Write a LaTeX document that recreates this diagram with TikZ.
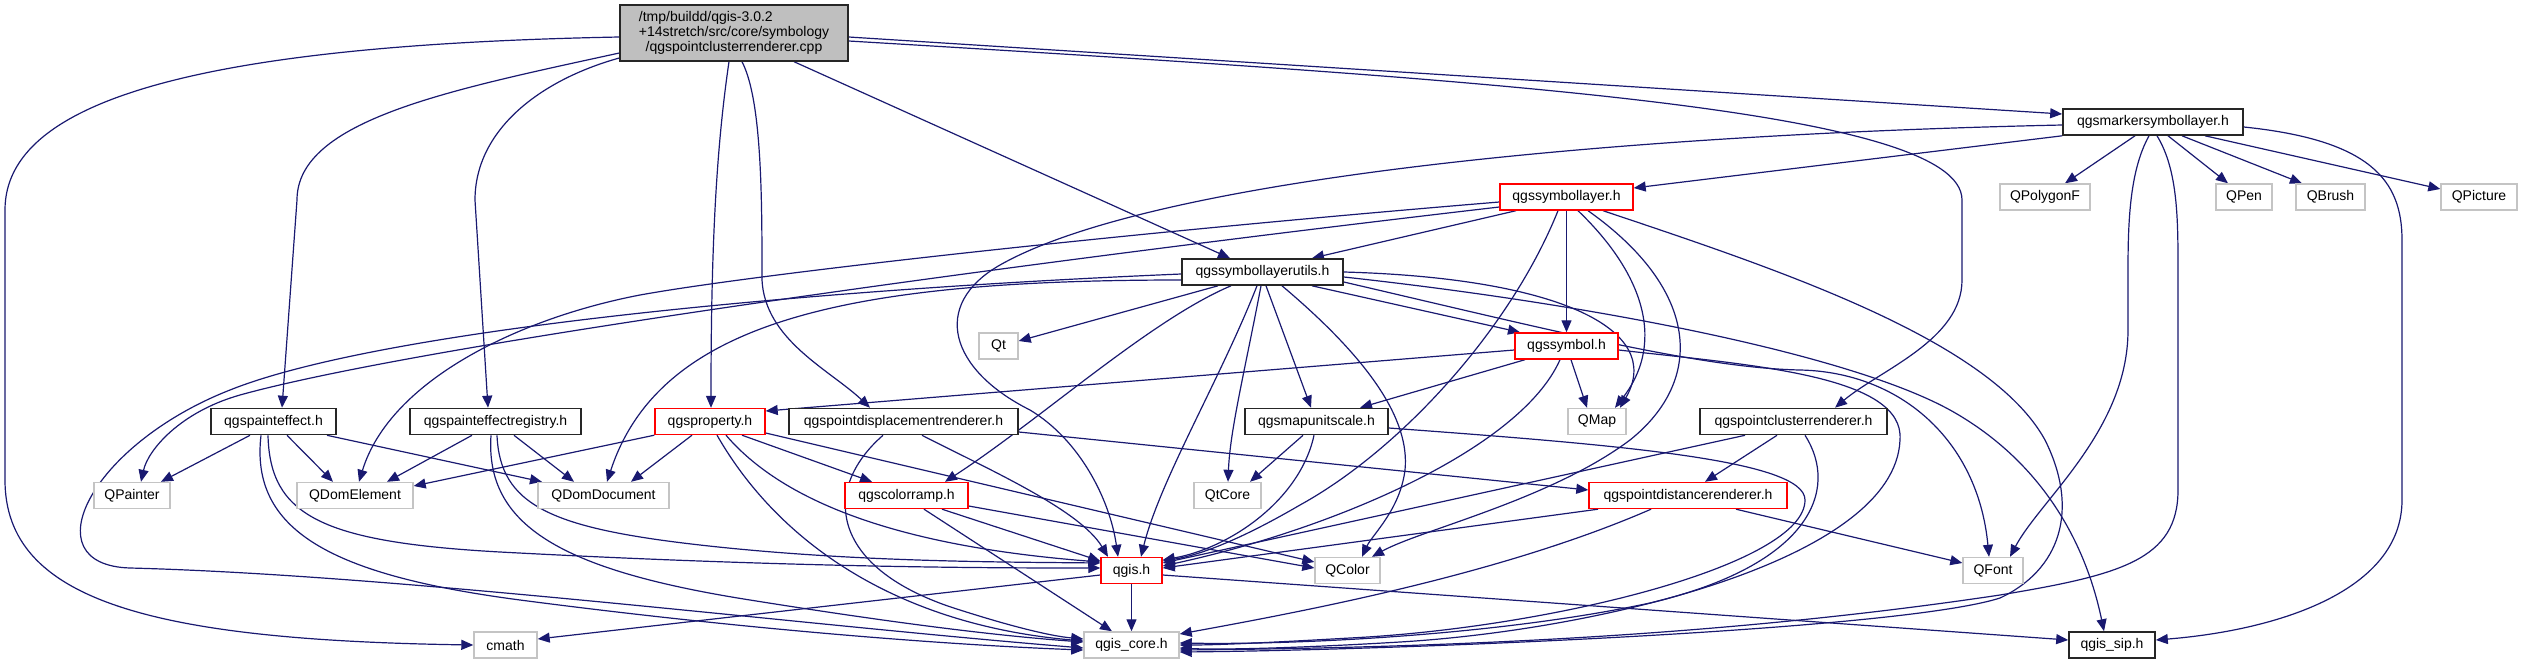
\documentclass[tikz,border=0pt]{standalone}
\usepackage{fontspec}
\setmainfont{Liberation Sans}
\usepackage{calc}
\usepackage{xcolor}
\usepackage{tikz}
\usetikzlibrary{arrows.meta, backgrounds}
\definecolor{depblue}{RGB}{25,25,112}
\definecolor{rootgray}{RGB}{191,191,191}
\definecolor{sysgray}{RGB}{196,196,196}
\begin{document}
\begin{tikzpicture}[
  x=1pt, y=-1pt,
  >={Triangle[length=12pt,width=10pt]},
  file/.style={draw, line width=1.4pt, fill=white, inner sep=0pt, minimum height=26pt, font=\fontsize{14}{15}\selectfont},
  rootF/.style={file, fill=rootgray, draw=black!85, align=center},
  hdrF/.style={file, draw=black!85, line width=1.6pt},
  cutF/.style={file, draw=red},
  sysF/.style={file, draw=sysgray},
  dep/.style={->, draw=depblue, line width=1.2pt}
]
\useasboundingbox (0,0) rectangle (2522,664);
\node[rootF, minimum width=228pt, minimum height=56pt] (main) at (734,33) {\makebox[\widthof{+14stretch/src/core/symbology}][l]{/tmp/buildd/qgis-3.0.2}\\+14stretch/src/core/symbology\\/qgspointclusterrenderer.cpp};
\node[hdrF, minimum width=180pt] (mk) at (2153,122) {qgsmarkersymbollayer.h};
\node[cutF, minimum width=133pt] (sl) at (1566.5,197) {qgssymbollayer.h};
\node[sysF, minimum width=90pt] (polyf) at (2045,197) {QPolygonF};
\node[sysF, minimum width=56pt] (pen) at (2244,197) {QPen};
\node[sysF, minimum width=69pt] (brush) at (2330.5,197) {QBrush};
\node[sysF, minimum width=76pt] (picture) at (2479,197) {QPicture};
\node[hdrF, minimum width=161pt] (utils) at (1262.5,272) {qgssymbollayerutils.h};
\node[sysF, minimum width=39pt] (qt) at (998.5,346) {Qt};
\node[cutF, minimum width=103pt] (sym) at (1566.5,346) {qgssymbol.h};
\node[hdrF, minimum width=125pt] (pe) at (273.5,421.5) {qgspainteffect.h};
\node[hdrF, minimum width=171pt] (per) at (495.5,421.5) {qgspainteffectregistry.h};
\node[cutF, minimum width=110pt] (prop) at (710,421.5) {qgsproperty.h};
\node[hdrF, minimum width=229pt] (disp) at (903.5,421.5) {qgspointdisplacementrenderer.h};
\node[hdrF, minimum width=143pt] (mus) at (1316.5,421.5) {qgsmapunitscale.h};
\node[sysF, minimum width=58pt] (qmap) at (1597,421.5) {QMap};
\node[hdrF, minimum width=187pt] (clu) at (1793.5,421.5) {qgspointclusterrenderer.h};
\node[sysF, minimum width=76pt] (painter) at (132,495.5) {QPainter};
\node[sysF, minimum width=116pt] (domel) at (355,495.5) {QDomElement};
\node[sysF, minimum width=131pt] (domdoc) at (603.5,495.5) {QDomDocument};
\node[cutF, minimum width=123pt] (ramp) at (906.5,495.5) {qgscolorramp.h};
\node[sysF, minimum width=67pt] (qtcore) at (1227.5,495.5) {QtCore};
\node[cutF, minimum width=198pt] (dist) at (1688,495.5) {qgspointdistancerenderer.h};
\node[cutF, minimum width=61pt] (qgis) at (1131.5,570.5) {qgis.h};
\node[sysF, minimum width=65pt] (color) at (1347.5,570.5) {QColor};
\node[sysF, minimum width=60pt] (font) at (1993,570.5) {QFont};
\node[sysF, minimum width=63pt] (cmath) at (505.5,645) {cmath};
\node[sysF, minimum width=95pt] (core) at (1131.5,645) {qgis\_core.h};
\node[hdrF, minimum width=86pt] (sip) at (2112,645) {qgis\_sip.h};

\begin{scope}[on background layer]
\draw[dep] (main.west |- 0,37) .. controls (200,45) and (5,100) .. (5,210) -- (5,480) .. controls (5,600) and (150,640) .. (cmath.west);
\draw[dep] (main.west |- 0,53) .. controls (450,90) and (297,120) .. (297,200) -- (pe.north -| 282,0);
\draw[dep] (main.west |- 0,58) .. controls (540,80) and (475,130) .. (475,200) -- (per.north -| 488,0);
\draw[dep] (main.south -| 729,0) .. controls (716,150) and (711,250) .. (prop.north -| 711,0);
\draw[dep] (main.south -| 742,0) .. controls (762,100) and (762,200) .. (762,280) .. controls (765,340) and (830,370) .. (disp.north -| 870,0);
\draw[dep] (main.south -| 794,0) -- (utils.north -| 1230,0);
\draw[dep] (main.east |- 0,37) -- (mk.west |- 0,114);
\draw[dep] (main.east |- 0,41) .. controls (1500,80) and (1962,110) .. (1962,200) -- (1962,280) .. controls (1962,340) and (1880,370) .. (clu.north -| 1835,0);

\draw[dep] (mk.south west) -- (sl.east |- 0,188);
\draw[dep] (mk.south -| 2135,0) -- (polyf.north -| 2065,0);
\draw[dep] (mk.south -| 2168,0) -- (pen.north -| 2228,0);
\draw[dep] (mk.south -| 2182,0) -- (brush.north -| 2302,0);
\draw[dep] (mk.south -| 2205,0) -- (picture.west |- 0,189);
\draw[dep] (mk.south -| 2149,0) .. controls (2130,170) and (2128,220) .. (2128,270) -- (2128,330) .. controls (2128,430) and (2040,500) .. (font.north -| 2010,0);
\draw[dep] (mk.south -| 2157,0) .. controls (2178,170) and (2178,220) .. (2178,270) -- (2178,490) .. controls (2178,560) and (2120,575) .. (2000,595) .. controls (1700,640) and (1400,648) .. (core.east |- 0,650);
\draw[dep] (mk.east |- 0,127) .. controls (2370,140) and (2402,180) .. (2402,240) -- (2402,500) .. controls (2402,590) and (2280,630) .. (sip.east |- 0,640);
\draw[dep] (mk.west |- 0,125) .. controls (1600,135) and (1150,180) .. (1000,265) .. controls (930,305) and (950,370) .. (1030,410) .. controls (1080,440) and (1110,500) .. (qgis.north -| 1118,0);

\draw[dep] (sl.west |- 0,202) .. controls (1100,235) and (750,275) .. (640,295) .. controls (520,318) and (390,380) .. (domel.north -| 359,0);
\draw[dep] (sl.west |- 0,207) .. controls (1000,265) and (420,345) .. (240,395) .. controls (180,412) and (148,450) .. (painter.north -| 141,0);
\draw[dep] (sl.south -| 1516,0) -- (utils.north -| 1312,0);
\draw[dep] (sl.south -| 1558,0) .. controls (1510,330) and (1400,450) .. (1300,505) .. controls (1240,540) and (1200,555) .. (qgis.east |- 0,561);
\draw[dep] (sl) -- (sym);
\draw[dep] (sl.south -| 1578,0) .. controls (1640,270) and (1668,340) .. (qmap.north -| 1615,0);
\draw[dep] (sl.south -| 1588,0) .. controls (1700,290) and (1705,380) .. (1630,440) .. controls (1550,500) and (1420,530) .. (color.north -| 1372,0);
\draw[dep] (sl.south -| 1603,0) .. controls (1780,270) and (1990,340) .. (2045,440) .. controls (2080,510) and (2060,570) .. (2000,598) .. controls (1900,630) and (1400,650) .. (core.east |- 0,652);

\draw[dep] (utils.south -| 1218,0) -- (qt.east |- 0,341);
\draw[dep] (utils.south -| 1231,0) .. controls (1150,320) and (1040,420) .. (ramp.north -| 945,0);
\draw[dep] (utils.south -| 1257,0) .. controls (1220,380) and (1160,480) .. (qgis.north -| 1141,0);
\draw[dep] (utils.south -| 1261,0) .. controls (1245,370) and (1230,430) .. (qtcore.north -| 1228,0);
\draw[dep] (utils.south -| 1266,0) -- (mus.north -| 1311,0);
\draw[dep] (utils.south -| 1282,0) .. controls (1370,360) and (1410,420) .. (1405,470) .. controls (1400,510) and (1372,535) .. (color.north -| 1362,0);
\draw[dep] (utils.south -| 1312,0) -- (sym.north -| 1520,0);
\draw[dep] (utils.east |- 0,272) .. controls (1560,278) and (1665,330) .. (qmap.north -| 1620,0);
\draw[dep] (utils.east |- 0,282) .. controls (1550,330) and (1700,368) .. (1800,370) .. controls (1900,372) and (1978,440) .. (font.north -| 1989,0);
\draw[dep] (utils.east |- 0,277) .. controls (1600,305) and (1850,355) .. (1950,410) .. controls (2040,460) and (2085,540) .. (sip.north -| 2104,0);
\draw[dep] (utils.west |- 0,280) .. controls (850,280) and (660,320) .. (domdoc.north -| 607,0);
\draw[dep] (utils.west |- 0,274) .. controls (800,290) and (380,330) .. (230,390) .. controls (90,445) and (30,565) .. (130,568) .. controls (400,575) and (800,625) .. (core.west |- 0,648);

\draw[dep] (sym.west |- 0,350) -- (prop.east |- 0,411);
\draw[dep] (sym.south -| 1525,0) -- (mus.north -| 1360,0);
\draw[dep] (sym.south -| 1560,0) .. controls (1520,450) and (1330,530) .. (qgis.east |- 0,566);
\draw[dep] (sym.south -| 1571,0) -- (qmap.north -| 1587,0);
\draw[dep] (sym.east |- 0,350) .. controls (1750,365) and (1905,375) .. (1900,440) .. controls (1895,560) and (1600,630) .. (1400,642) .. controls (1300,648) and (1220,650) .. (core.east |- 0,648);

\draw[dep] (pe.south -| 250,0) -- (painter.north -| 161,0);
\draw[dep] (pe.south -| 287,0) -- (domel.north -| 333,0);
\draw[dep] (pe.south -| 327,0) -- (domdoc.north -| 542,0);
\draw[dep] (pe.south -| 268,0) .. controls (270,515) and (320,542) .. (500,552) .. controls (800,568) and (1000,568) .. (qgis.west |- 0,568);
\draw[dep] (pe.south -| 261,0) .. controls (250,530) and (330,575) .. (520,600) .. controls (750,630) and (950,645) .. (core.west |- 0,650);

\draw[dep] (per.south -| 472,0) -- (domel.north -| 387,0);
\draw[dep] (per.south -| 514,0) -- (domdoc.north -| 574,0);
\draw[dep] (per.south -| 497,0) .. controls (500,505) and (550,528) .. (700,545) .. controls (850,562) and (1000,562) .. (qgis.west |- 0,563);
\draw[dep] (per.south -| 491,0) .. controls (485,525) and (560,570) .. (750,600) .. controls (900,624) and (1000,636) .. (core.west |- 0,642);

\draw[dep] (prop.south west) -- (domel.east |- 0,486);
\draw[dep] (prop.south -| 692,0) -- (domdoc.north -| 631,0);
\draw[dep] (prop.south -| 742,0) -- (ramp.north -| 872,0);
\draw[dep] (prop.south -| 726,0) .. controls (790,510) and (920,548) .. (qgis.west |- 0,562);
\draw[dep] (prop.south -| 717,0) .. controls (780,545) and (900,625) .. (core.west |- 0,641);
\draw[dep] (prop.east |- 0,433) -- (color.west |- 0,562);

\draw[dep] (disp.east |- 0,432) -- (dist.west |- 0,490);
\draw[dep] (disp.south -| 922,0) .. controls (990,470) and (1080,510) .. (qgis.north -| 1108,0);
\draw[dep] (disp.south -| 883,0) .. controls (820,490) and (830,570) .. (960,610) .. controls (1010,626) and (1050,636) .. (core.west |- 0,639);

\draw[dep] (mus.south -| 1303,0) -- (qtcore.north -| 1250,0);
\draw[dep] (mus.south -| 1314,0) .. controls (1300,500) and (1230,548) .. (qgis.east |- 0,560);
\draw[dep] (mus.east |- 0,428) .. controls (1620,445) and (1805,460) .. (1805,500) .. controls (1805,565) and (1550,628) .. (1350,638) .. controls (1280,642) and (1220,645) .. (core.east |- 0,645);

\draw[dep] (ramp.south -| 942,0) -- (qgis.west |- 0,561);
\draw[dep] (ramp.south -| 924,0) -- (core.north -| 1112,0);
\draw[dep] (ramp.east |- 0,506) -- (color.west |- 0,568);

\draw[dep] (clu.south -| 1745,0) -- (qgis.east |- 0,563);
\draw[dep] (clu.south -| 1777,0) -- (dist.north -| 1705,0);
\draw[dep] (clu.south -| 1805,0) .. controls (1840,490) and (1810,565) .. (1650,603) .. controls (1500,635) and (1300,645) .. (core.east |- 0,643);

\draw[dep] (dist.south -| 1598,0) -- (qgis.east |- 0,568);
\draw[dep] (dist.south -| 1651,0) .. controls (1500,575) and (1300,612) .. (core.east |- 0,634);
\draw[dep] (dist.south -| 1736,0) -- (font.west |- 0,563);

\draw[dep] (qgis.west |- 0,575) -- (cmath.east |- 0,639);
\draw[dep] (qgis) -- (core);
\draw[dep] (qgis.east |- 0,575) -- (sip.west |- 0,640);
\end{scope}
\end{tikzpicture}
\end{document}
